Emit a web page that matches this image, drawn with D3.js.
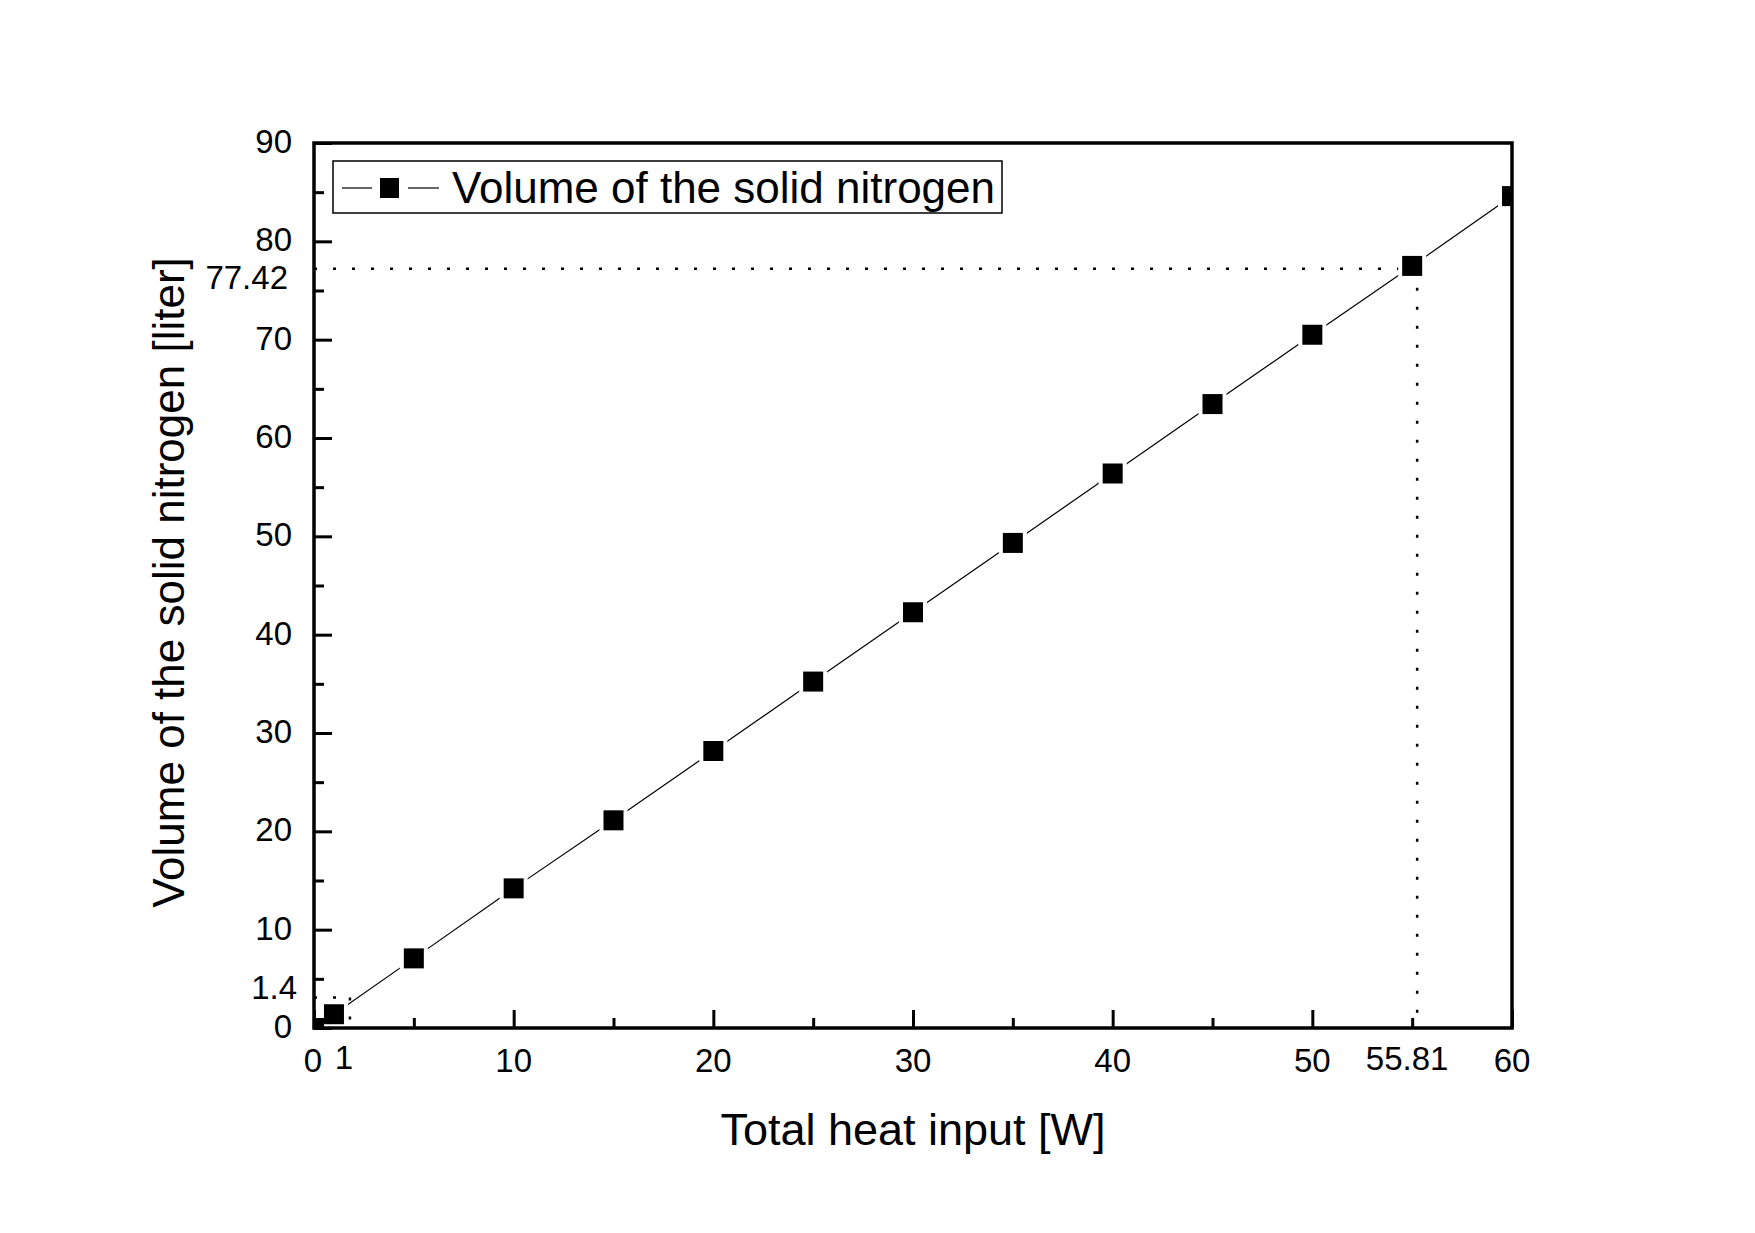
<!DOCTYPE html>
<html>
<head>
<meta charset="utf-8">
<script src="https://cdn.jsdelivr.net/npm/d3@7"></script>
<style>
  html, body { margin: 0; padding: 0; background: #fff; }
  svg { display: block; font-family: "Liberation Sans", Arial, sans-serif; }
</style>
</head>
<body>
<script>
// ---- data ----
const heatInput = [0, 1, 5, 10, 15, 20, 25, 30, 35, 40, 45, 50, 55, 60];
const solidVolume = [0, 1.4, 7.08, 14.2, 21.12, 28.17, 35.23, 42.28, 49.33, 56.39, 63.45, 70.5, 77.5, 84.6];
const seriesName = "Volume of the solid nitrogen";
const xMajorTicks = [0, 10, 20, 30, 40, 50, 60];
const xTickLabels = ["0", "10", "20", "30", "40", "50", "60"];
const xMinorTicks = [5, 15, 25, 35, 45, 55];
const yMajorTicks = [0, 10, 20, 30, 40, 50, 60, 70, 80, 90];
const yTickLabels = ["0", "10", "20", "30", "40", "50", "60", "70", "80", "90"];
const yMinorTicks = [5, 15, 25, 35, 45, 55, 65, 75, 85];
const guideX = [1.8, 55.25];
const guideXLabels = ["1", "55.81"];
const guideY = [3.1, 77.2];
const guideYLabels = ["1.4", "77.42"];
const xTitle = "Total heat input [W]";
const yTitle = "Volume of the solid nitrogen [liter]";

// ---- layout ----
const W = 1755, H = 1233;
const L = 314, R = 1512, T = 143, B = 1028;

const svg = d3.select("body").append("svg").attr("width", W).attr("height", H);
svg.append("rect").attr("width", W).attr("height", H).attr("fill", "#fff");

const x = d3.scaleLinear().domain([0, 60]).range([L, R]);
const y = d3.scaleLinear().domain([0, 90]).range([B, T]);

svg.append("defs").append("clipPath").attr("id", "plotclip")
  .append("rect").attr("x", L).attr("y", T).attr("width", R - L).attr("height", B - T);

const plot = svg.append("g").attr("clip-path", "url(#plotclip)");

const pts = heatInput.map((d, i) => [d, solidVolume[i]]);

// data line
plot.append("path")
  .attr("d", d3.line().x(d => x(d[0])).y(d => y(d[1]))(pts))
  .attr("fill", "none").attr("stroke", "#000").attr("stroke-width", 1.2);

// dotted guides
const gx = guideX, gy = guideY;
function dotted(x1, x2, y1, y2) {
  plot.append("line").attr("x1", x1).attr("x2", x2).attr("y1", y1).attr("y2", y2)
    .attr("stroke", "#000").attr("stroke-width", 2.5).attr("stroke-dasharray", "3 16");
}
dotted(L, x(gx[0]), y(gy[0]), y(gy[0]));
dotted(x(gx[0]), x(gx[0]), y(gy[0]), B);
dotted(L, x(gx[1]), y(gy[1]), y(gy[1]));
dotted(x(gx[1]), x(gx[1]), y(gy[1]), B);

// marker halos (gap in line) and markers
const ms = 20, halo = 28;
plot.selectAll("rect.halo").data(pts).enter().append("rect")
  .attr("class", "halo")
  .attr("x", d => x(d[0]) - halo / 2).attr("y", d => y(d[1]) - halo / 2)
  .attr("width", halo).attr("height", halo).attr("fill", "#fff");
plot.selectAll("rect.mk").data(pts).enter().append("rect")
  .attr("class", "mk")
  .attr("x", d => x(d[0]) - ms / 2).attr("y", d => y(d[1]) - ms / 2)
  .attr("width", ms).attr("height", ms).attr("fill", "#000");

// ticks via d3 axes (inward)
const axX = svg.append("g").attr("transform", `translate(0,${B})`)
  .call(d3.axisBottom(x).tickValues(xMajorTicks).tickSize(-18).tickFormat(""));
const axXm = svg.append("g").attr("transform", `translate(0,${B})`)
  .call(d3.axisBottom(x).tickValues(xMinorTicks).tickSize(-10).tickFormat(""));
const axY = svg.append("g").attr("transform", `translate(${L},0)`)
  .call(d3.axisLeft(y).tickValues(yMajorTicks).tickSize(-18).tickFormat(""));
const axYm = svg.append("g").attr("transform", `translate(${L},0)`)
  .call(d3.axisLeft(y).tickValues(yMinorTicks).tickSize(-10).tickFormat(""));
[axX, axXm, axY, axYm].forEach(a => {
  a.select(".domain").remove();
  a.selectAll(".tick line").attr("stroke", "#000").attr("stroke-width", 3);
});

// frame
svg.append("rect").attr("x", L).attr("y", T).attr("width", R - L).attr("height", B - T)
  .attr("fill", "none").attr("stroke", "#000").attr("stroke-width", 3.5);

// tick labels
const fs = 33;
svg.selectAll("text.xl").data(xMajorTicks).enter().append("text")
  .attr("x", (d, i) => x(d) - (i === 0 ? 1 : 0)).attr("y", B + 44)
  .attr("text-anchor", "middle").attr("font-size", fs).text((d, i) => xTickLabels[i]);
svg.selectAll("text.yl").data(yMajorTicks).enter().append("text")
  .attr("x", L - 22).attr("y", d => y(d) + 10)
  .attr("text-anchor", "end").attr("font-size", fs).text((d, i) => yTickLabels[i]);

// guide labels
svg.append("text").attr("x", x(gx[0]) - 6).attr("y", B + 41).attr("text-anchor", "middle")
  .attr("font-size", fs).text(guideXLabels[0]);
svg.append("text").attr("x", x(gx[1]) - 10).attr("y", B + 42).attr("text-anchor", "middle")
  .attr("font-size", fs).text(guideXLabels[1]);
svg.append("text").attr("x", L - 17).attr("y", y(gy[0]) + 1).attr("text-anchor", "end")
  .attr("font-size", fs).text(guideYLabels[0]);
svg.append("text").attr("x", L - 26).attr("y", y(gy[1]) + 20).attr("text-anchor", "end")
  .attr("font-size", fs).text(guideYLabels[1]);

// axis titles
svg.append("text").attr("x", (L + R) / 2).attr("y", 1145).attr("text-anchor", "middle")
  .attr("font-size", 45).text(xTitle);
svg.append("text").attr("transform", `translate(184,${(T + B) / 2 - 3}) rotate(-90)`)
  .attr("text-anchor", "middle").attr("font-size", 44).text(yTitle);

// legend
const lg = svg.append("g");
lg.append("rect").attr("x", 333).attr("y", 161).attr("width", 669).attr("height", 52)
  .attr("fill", "#fff").attr("stroke", "#000").attr("stroke-width", 1.5);
lg.append("line").attr("x1", 342).attr("x2", 372).attr("y1", 188).attr("y2", 188)
  .attr("stroke", "#000").attr("stroke-width", 1.2);
lg.append("line").attr("x1", 408).attr("x2", 439).attr("y1", 188).attr("y2", 188)
  .attr("stroke", "#000").attr("stroke-width", 1.2);
lg.append("rect").attr("x", 380).attr("y", 178).attr("width", 19).attr("height", 20).attr("fill", "#000");
lg.append("text").attr("x", 452).attr("y", 203).attr("font-size", 44).text(seriesName);
</script>
</body>
</html>
